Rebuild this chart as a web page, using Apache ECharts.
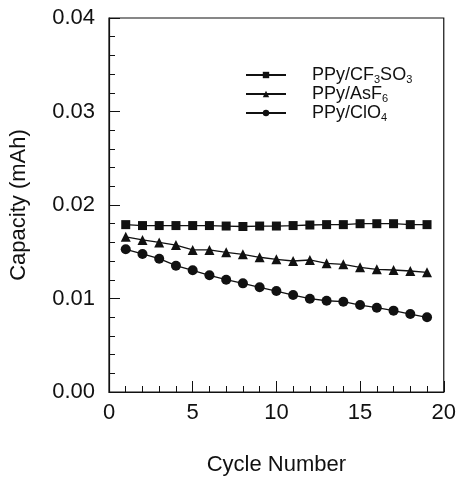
<!DOCTYPE html>
<html>
<head>
<meta charset="utf-8">
<script src="https://cdn.jsdelivr.net/npm/echarts@6/dist/echarts.min.js"></script>
<style>
	html, body{margin: 0;padding: 0;background: #fff;}
	#main{width: 459px;height: 483px;}
</style>
</head>
<body>
<div id="main"></div>
<script type="text/javascript">
	// data
	var cycles = [1,2,3,4,5,6,7,8,9,10,11,12,13,14,15,16,17,18,19];
	var cf3so3 = [0.0179,0.0178,0.0178,0.0178,0.0178,0.0178,0.01775,0.0177,0.01775,0.01775,0.0178,0.01786,0.0179,0.0179,0.0180,0.0180,0.0180,0.0179,0.0179];
	var asf6 = [0.0166,0.01626,0.0160,0.01572,0.01519,0.01519,0.01494,0.01473,0.01441,0.01419,0.01401,0.01412,0.01376,0.01366,0.01334,0.01312,0.01305,0.01294,0.0128];
	var clo4 = [0.01526,0.01476,0.01426,0.01351,0.01302,0.01248,0.01201,0.01162,0.0112,0.0108,0.01037,0.00998,0.00976,0.00966,0.0093,0.00902,0.0087,0.00834,0.00799];
	var yTicks = ['0.00','0.01','0.02','0.03','0.04'];
	var xTicks = ['0','5','10','15','20'];

	function pairs(ys){
		return cycles.map(function(x, i){ return [x, ys[i]]; });
	}

	var font = 'Liberation Sans, Arial, sans-serif';
	var legendLabels = {
		'PPy/CF3SO3': '{sp| }{n|PPy/CF}{s|3}{n|SO}{s|3}',
		'PPy/AsF6': '{sp| }{n|PPy/AsF}{s|6}',
		'PPy/ClO4': '{sp| }{n|PPy/ClO}{s|4}'
	};

	var myChart = echarts.init(document.getElementById('main'));
	var option = {
	    backgroundColor: '#fff',
	    animation: false,
	    textStyle: {fontFamily: font, color: '#111'},
	    grid: {
	        left: 109, right: 15, top: 18, bottom: 91,
	        show: true, borderColor: '#111', borderWidth: 1.2,
	        containLabel: false
	    },
	    legend: {
	        orient: 'vertical',
	        left: 245, top: 66,
	        padding: 0,
	        itemWidth: 40, itemHeight: 8, itemGap: 0,
	        data: ['PPy/CF3SO3','PPy/AsF6','PPy/ClO4'],
	        formatter: function(name){ return legendLabels[name]; },
	        textStyle: {
	            rich: {
	                sp: {width: 21, fontSize: 18},
	                n: {fontSize: 18, lineHeight: 20, fontFamily: font, color: '#111'},
	                s: {fontSize: 11, lineHeight: 11, verticalAlign: 'bottom', fontFamily: font, color: '#111'}
	            }
	        }
	    },
	    xAxis: {
	        type: 'value',
	        min: 0, max: 20, interval: 5,
	        name: 'Cycle Number',
	        nameLocation: 'middle',
	        nameGap: 62,
	        nameTextStyle: {fontSize: 22, color: '#111'},
	        axisLine: {lineStyle: {color: '#111', width: 1.2}},
	        axisTick: {inside: true, length: 11, lineStyle: {color: '#111'}},
	        minorTick: {show: true, splitNumber: 5, length: 6, lineStyle: {color: '#111'}},
	        axisLabel: {
	            fontSize: 22, color: '#111', margin: 10,
	            formatter: function(v){ return xTicks[v / 5]; }
	        },
	        splitLine: {show: false}
	    },
	    yAxis: {
	        type: 'value',
	        min: 0, max: 0.04, interval: 0.01,
	        name: 'Capacity (mAh)',
	        nameLocation: 'middle',
	        nameRotate: 90,
	        nameGap: 79,
	        nameTextStyle: {fontSize: 22, color: '#111'},
	        axisLine: {lineStyle: {color: '#111', width: 1.2}},
	        axisTick: {inside: true, length: 11, lineStyle: {color: '#111'}},
	        minorTick: {show: true, splitNumber: 5, length: 6, lineStyle: {color: '#111'}},
	        axisLabel: {
	            fontSize: 22, color: '#111', margin: 14,
	            formatter: function(v){ return yTicks[Math.round(v * 100)]; }
	        },
	        splitLine: {show: false}
	    },
	    series: [{
	        name: 'PPy/CF3SO3',
	        type: 'line',
	        data: pairs(cf3so3),
	        symbol: 'rect', symbolSize: 9,
	        itemStyle: {color: '#111'},
	        lineStyle: {color: '#111', width: 1.3}
	    },{
	        name: 'PPy/AsF6',
	        type: 'line',
	        data: pairs(asf6),
	        symbol: 'triangle', symbolSize: 10,
	        itemStyle: {color: '#111'},
	        lineStyle: {color: '#111', width: 1.3}
	    },{
	        name: 'PPy/ClO4',
	        type: 'line',
	        data: pairs(clo4),
	        symbol: 'circle', symbolSize: 10,
	        itemStyle: {color: '#111'},
	        lineStyle: {color: '#111', width: 1.3}
	    }]
	};
	myChart.setOption(option);
</script>
</body>
</html>
